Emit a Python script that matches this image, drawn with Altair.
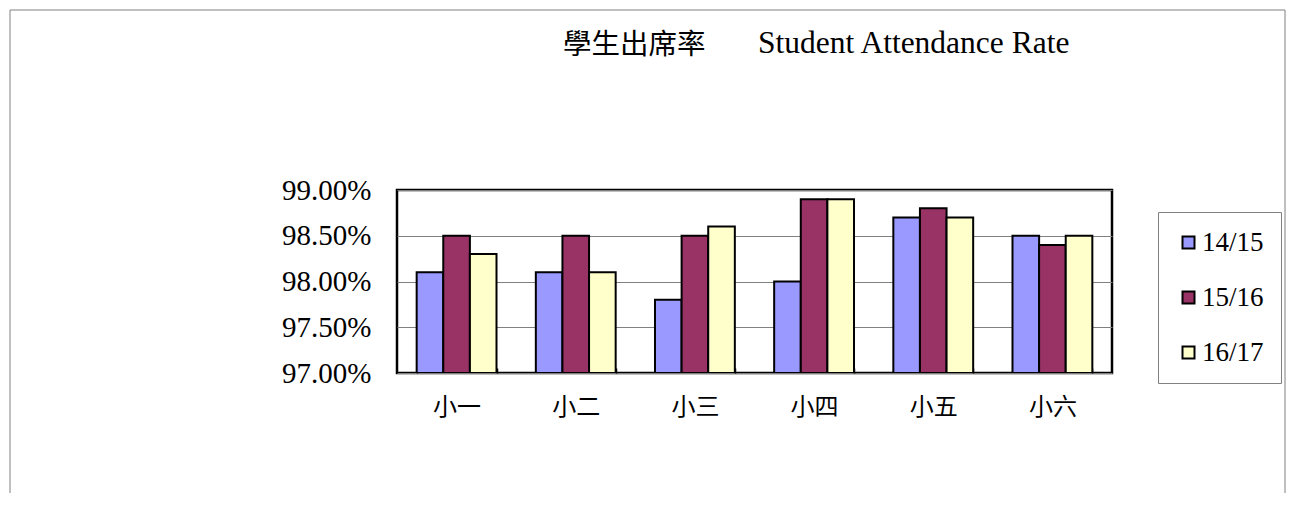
import altair as alt
import pandas as pd

grades = ["小一", "小二", "小三", "小四", "小五", "小六"]
years = ["14/15", "15/16", "16/17"]
rate_1415 = [98.1, 98.1, 97.8, 98.0, 98.7, 98.5]
rate_1516 = [98.5, 98.5, 98.5, 98.9, 98.8, 98.4]
rate_1617 = [98.3, 98.1, 98.6, 98.9, 98.7, 98.5]
colors = ["#9999FF", "#993366", "#FFFFCC"]
title_zh = ["學生出席率"]
title_en = ["Student Attendance Rate"]

rows = []
for yr, vals in zip(years, [rate_1415, rate_1516, rate_1617]):
    for g, v in zip(grades, vals):
        rows.append({"grade": g, "year": yr, "rate": v / 100.0})
df = pd.DataFrame(rows)

SERIF = "'Liberation Serif', 'Noto Sans CJK TC'"
W, H = 715, 183

frame = alt.Chart(pd.DataFrame({"a": [0]})).mark_rect(
    fill=None, stroke="#808080", strokeWidth=1
).encode(
    x=alt.value(-387), x2=alt.value(888), y=alt.value(-180), y2=alt.value(400)
)

title1 = alt.Chart(pd.DataFrame({"t": title_zh})).mark_text(
    font="Noto Sans CJK TC", fontSize=28.5, color="black", align="left", baseline="alphabetic"
).encode(text="t:N", x=alt.value(166), y=alt.value(-136))

title2 = alt.Chart(pd.DataFrame({"t": title_en})).mark_text(
    font=SERIF, fontSize=31.5, color="black", align="left", baseline="alphabetic"
).encode(text="t:N", x=alt.value(361), y=alt.value(-137))

bars = alt.Chart(df).mark_bar(stroke="black", strokeWidth=2, clip=True).encode(
    x=alt.X(
        "grade:N",
        sort=grades,
        scale=alt.Scale(paddingInner=0.33, paddingOuter=0.165),
        axis=alt.Axis(
            title=None,
            labelAngle=0,
            labelFont="Noto Sans CJK TC",
            labelFontSize=24,
            labelColor="black",
            labelPadding=22,
            tickBand="extent",
            tickSize=5,
            tickColor="black",
            tickWidth=1.5,
            offset=-5,
            domain=False,
        ),
    ),
    xOffset=alt.XOffset("year:N", sort=years, scale=alt.Scale(paddingInner=0, paddingOuter=0)),
    y=alt.Y(
        "rate:Q",
        scale=alt.Scale(domain=[0.97, 0.99], zero=False, nice=False),
        axis=alt.Axis(
            title=None,
            format=".2%",
            values=[0.97, 0.975, 0.98, 0.985, 0.99],
            labelFont=SERIF,
            labelFontSize=29,
            labelColor="black",
            labelPadding=26,
            ticks=False,
            domain=False,
            grid=True,
            gridColor="#808080",
            gridWidth=1.2,
        ),
    ),
    y2=alt.Y2(datum=0.97),
    color=alt.Color(
        "year:N",
        sort=years,
        scale=alt.Scale(domain=years, range=colors),
        legend=alt.Legend(
            title=None,
            orient="none",
            legendX=761,
            legendY=22,
            padding=17,
            rowPadding=27,
            strokeColor="#808080",
            fillColor="white",
            symbolType="square",
            symbolSize=144,
            symbolStrokeColor="black",
            symbolStrokeWidth=2,
            labelFont=SERIF,
            labelFontSize=27,
            labelColor="black",
            labelOffset=0,
        ),
    ),
)

chart = alt.layer(frame, title1, title2, bars).properties(
    width=W,
    height=H,
    autosize=alt.AutoSizeParams(type="none"),
    padding={"left": 389, "top": 182, "right": 175, "bottom": 120},
    background="white",
).configure_view(stroke="black", strokeWidth=2.5)

chart.save("out.html", embed_options={"renderer": "svg", "actions": False})
